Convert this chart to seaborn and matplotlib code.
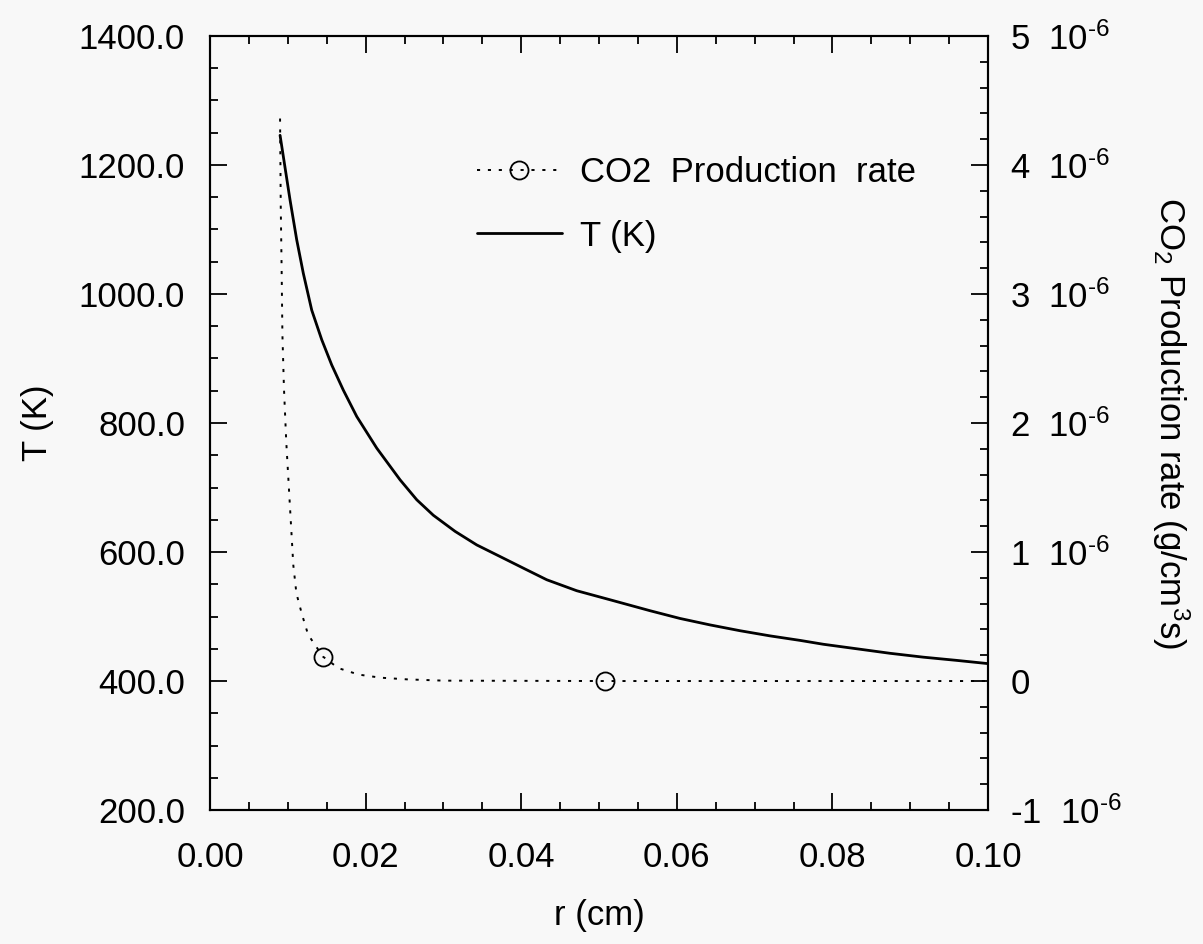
import matplotlib
matplotlib.use("Agg")
import matplotlib.pyplot as plt
import seaborn as sns
from matplotlib.lines import Line2D
from matplotlib.ticker import FixedLocator, FixedFormatter, MultipleLocator

# Temperature profile T(r)
r_temp = [0.0090, 0.01028, 0.01114, 0.01199, 0.01307, 0.01436, 0.01564, 0.01713,
          0.01886, 0.02143, 0.02442, 0.02657, 0.0287, 0.0315, 0.03428, 0.03728,
          0.04027, 0.04328, 0.04713, 0.05141, 0.05656, 0.06041, 0.06427, 0.06812,
          0.07198, 0.07584, 0.07883, 0.08312, 0.0874, 0.09168, 0.09598, 0.1000]
temp_k = [1246, 1146, 1084, 1032, 975, 929, 890, 851,
          810, 761, 712, 681, 657, 632, 611, 593,
          575, 557, 540, 526, 509, 497, 487, 478,
          470, 463, 457, 450, 443, 437, 432, 427]

# CO2 production rate (g/cm^3 s)
r_co2 = [0.0090, 0.00909, 0.0092, 0.0093, 0.0095, 0.0098, 0.0107, 0.0111,
         0.0118, 0.0126, 0.0145, 0.0165, 0.0191, 0.0219, 0.0253, 0.0300,
         0.0508, 0.1000]
co2_rate = [4.36e-6, 3.67e-6, 3.20e-6, 2.69e-6, 2.27e-6, 1.85e-6, 0.90e-6, 0.68e-6,
            0.52e-6, 0.36e-6, 0.19e-6, 0.10e-6, 0.05e-6, 0.026e-6, 0.013e-6, 0.003e-6,
            0.0, 0.0]
co2_marker_idx = [10, 16]

# Axis ticks and labels
r_ticks = [0.00, 0.02, 0.04, 0.06, 0.08, 0.10]
r_tick_labels = ["0.00", "0.02", "0.04", "0.06", "0.08", "0.10"]
t_ticks = [200, 400, 600, 800, 1000, 1200, 1400]
t_tick_labels = ["200.0", "400.0", "600.0", "800.0", "1000.0", "1200.0", "1400.0"]
rate_ticks = [-1e-6, 0.0, 1e-6, 2e-6, 3e-6, 4e-6, 5e-6]
rate_tick_labels = ["-1  10$^{\u2010 6}$", "0", "1  10$^{\u2010 6}$", "2  10$^{\u2010 6}$",
                    "3  10$^{\u2010 6}$", "4  10$^{\u2010 6}$", "5  10$^{\u2010 6}$"]

legend_labels = ["CO2  Production  rate", "T (K)"]

bg = "#f8f8f8"
fs = 25

sns.set_theme(style="ticks")
plt.rcParams["font.family"] = ["Liberation Sans", "DejaVu Sans"]
plt.rcParams["mathtext.fontset"] = "custom"
plt.rcParams["mathtext.rm"] = "Liberation Sans"
plt.rcParams["mathtext.it"] = "Liberation Sans:italic"
plt.rcParams["mathtext.default"] = "regular"
plt.rcParams["text.color"] = "black"
plt.rcParams["axes.labelcolor"] = "black"
plt.rcParams["xtick.color"] = "black"
plt.rcParams["ytick.color"] = "black"

fig = plt.figure(figsize=(12.03, 9.44), dpi=100, facecolor=bg)
ax = fig.add_axes([0.1746, 0.1419, 0.6467, 0.8200])
ax.set_facecolor(bg)
ax2 = ax.twinx()

sns.lineplot(x=r_temp, y=temp_k, ax=ax, color="black", lw=2.0,
             sort=False, legend=False)
sns.lineplot(x=r_co2, y=co2_rate, ax=ax2, color="black", lw=1.4,
             linestyle=(0, (1.6, 4)), marker="o", markevery=co2_marker_idx,
             mfc="none", mec="black", ms=13, mew=1.3, sort=False, legend=False)

ax.set_xlim(0, 0.1)
ax.set_ylim(200, 1400)
ax2.set_ylim(-1e-6, 5e-6)

ax.xaxis.set_major_locator(FixedLocator(r_ticks))
ax.xaxis.set_major_formatter(FixedFormatter(r_tick_labels))
ax.xaxis.set_minor_locator(MultipleLocator(0.005))
ax.yaxis.set_major_locator(FixedLocator(t_ticks))
ax.yaxis.set_major_formatter(FixedFormatter(t_tick_labels))
ax.yaxis.set_minor_locator(MultipleLocator(50))
ax2.yaxis.set_major_locator(FixedLocator(rate_ticks))
ax2.yaxis.set_major_formatter(FixedFormatter(rate_tick_labels))
ax2.yaxis.set_minor_locator(MultipleLocator(0.2e-6))

ax.tick_params(axis="x", which="both", direction="in", top=True, bottom=True,
               labelsize=fs, pad=22, width=1.3)
ax.tick_params(axis="y", which="both", direction="in", left=True, right=False,
               labelsize=fs, pad=18, width=1.3)
ax2.tick_params(axis="y", which="both", direction="in", right=True, left=False,
                labelsize=fs, pad=16, width=1.3)
for a in (ax, ax2):
    a.tick_params(which="major", length=12)
    a.tick_params(which="minor", length=6)
    for s in a.spines.values():
        s.set_linewidth(1.5)
        s.set_color("black")

ax.set_xlabel("r (cm)", fontsize=fs, labelpad=18)
ax.set_ylabel("T (K)", fontsize=fs, labelpad=18)
ax2.set_ylabel("CO$_2$ Production rate (g/cm$^3$s)", fontsize=fs,
               rotation=270, va="bottom", labelpad=20)

handles = [
    Line2D([], [], color="black", lw=1.4, linestyle=(0, (1.6, 4)), marker="o",
           mfc="none", mec="black", ms=13, mew=1.3),
    Line2D([], [], color="black", lw=2.0),
]
ax2.legend(handles, legend_labels, loc="upper left", bbox_to_anchor=(0.343, 0.845),
           frameon=False, fontsize=25, handlelength=2.45, handletextpad=0.52,
           labelspacing=0.88, borderpad=0, borderaxespad=0)

fig.savefig("out.png", dpi=100, facecolor=bg)
